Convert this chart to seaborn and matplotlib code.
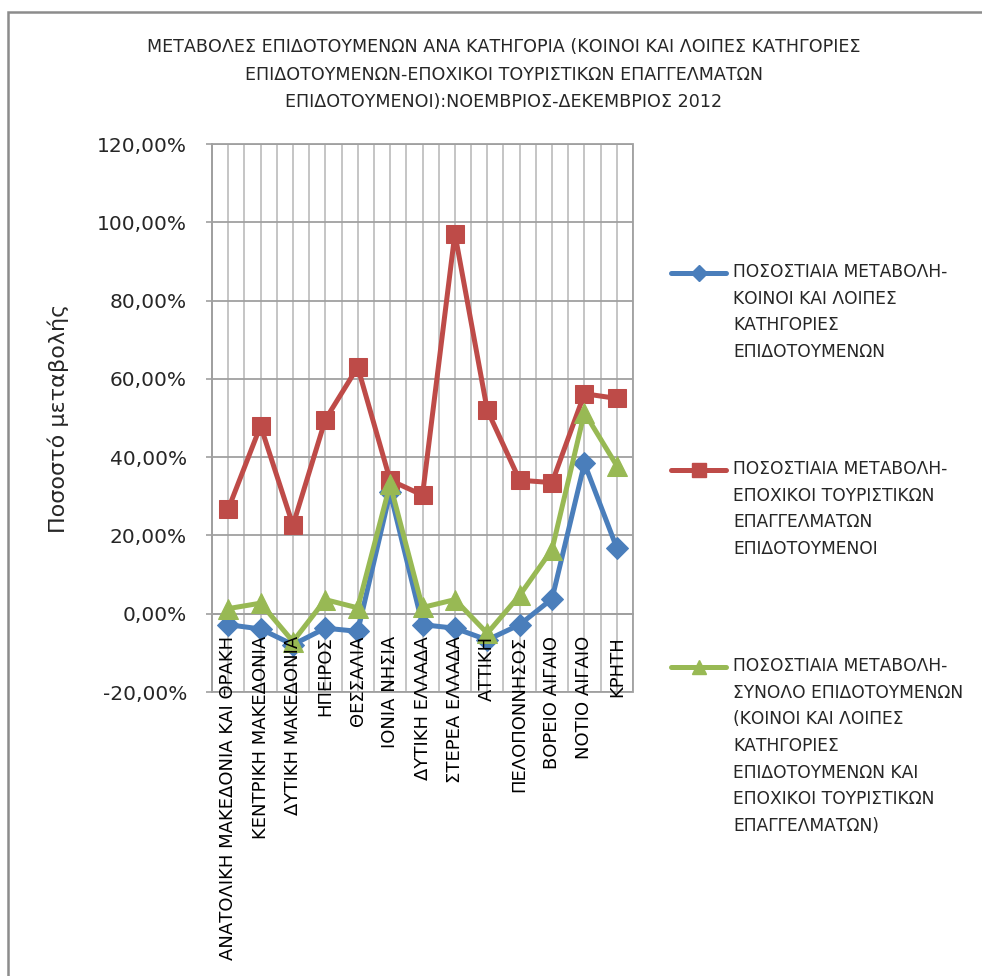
import matplotlib
matplotlib.use("Agg")
import matplotlib.pyplot as plt
from matplotlib.lines import Line2D
from matplotlib.patches import Rectangle
from matplotlib.ticker import FuncFormatter
from matplotlib import font_manager
import seaborn as sns
import pandas as pd

# ---------------- data ----------------
categories = ["ΑΝΑΤΟΛΙΚΗ ΜΑΚΕΔΟΝΙΑ ΚΑΙ ΘΡΑΚΗ", "ΚΕΝΤΡΙΚΗ ΜΑΚΕΔΟΝΙΑ", "ΔΥΤΙΚΗ ΜΑΚΕΔΟΝΙΑ",
              "ΗΠΕΙΡΟΣ", "ΘΕΣΣΑΛΙΑ", "ΙΟΝΙΑ ΝΗΣΙΑ", "ΔΥΤΙΚΗ ΕΛΛΑΔΑ", "ΣΤΕΡΕΑ ΕΛΛΑΔΑ",
              "ΑΤΤΙΚΗ", "ΠΕΛΟΠΟΝΝΗΣΟΣ", "ΒΟΡΕΙΟ ΑΙΓΑΙΟ", "ΝΟΤΙΟ ΑΙΓΑΙΟ", "ΚΡΗΤΗ"]
koinoi = [-2.8, -3.9, -7.9, -3.7, -4.5, 31.0, -2.8, -3.7, -6.7, -2.8, 3.8, 38.4, 16.8]
epoxikoi = [26.7, 48.0, 22.6, 49.6, 63.0, 34.1, 30.3, 97.1, 52.0, 34.1, 33.5, 56.2, 55.0]
synolo = [1.3, 2.7, -7.1, 3.6, 1.5, 33.1, 1.6, 3.6, -5.0, 4.7, 16.4, 51.4, 37.8]
yticks = [-20, 0, 20, 40, 60, 80, 100, 120]

series_labels = [
    "ΠΟΣΟΣΤΙΑΙΑ ΜΕΤΑΒΟΛΗ-\nΚΟΙΝΟΙ ΚΑΙ ΛΟΙΠΕΣ\nΚΑΤΗΓΟΡΙΕΣ\nΕΠΙΔΟΤΟΥΜΕΝΩΝ",
    "ΠΟΣΟΣΤΙΑΙΑ ΜΕΤΑΒΟΛΗ-\nΕΠΟΧΙΚΟΙ ΤΟΥΡΙΣΤΙΚΩΝ\nΕΠΑΓΓΕΛΜΑΤΩΝ\nΕΠΙΔΟΤΟΥΜΕΝΟΙ",
    "ΠΟΣΟΣΤΙΑΙΑ ΜΕΤΑΒΟΛΗ-\nΣΥΝΟΛΟ ΕΠΙΔΟΤΟΥΜΕΝΩΝ\n(ΚΟΙΝΟΙ ΚΑΙ ΛΟΙΠΕΣ\nΚΑΤΗΓΟΡΙΕΣ\nΕΠΙΔΟΤΟΥΜΕΝΩΝ ΚΑΙ\nΕΠΟΧΙΚΟΙ ΤΟΥΡΙΣΤΙΚΩΝ\nΕΠΑΓΓΕΛΜΑΤΩΝ)",
]
title = ("ΜΕΤΑΒΟΛΕΣ ΕΠΙΔΟΤΟΥΜΕΝΩΝ ΑΝΑ ΚΑΤΗΓΟΡΙΑ (ΚΟΙΝΟΙ ΚΑΙ ΛΟΙΠΕΣ ΚΑΤΗΓΟΡΙΕΣ\n"
         "ΕΠΙΔΟΤΟΥΜΕΝΩΝ-ΕΠΟΧΙΚΟΙ ΤΟΥΡΙΣΤΙΚΩΝ ΕΠΑΓΓΕΛΜΑΤΩΝ\n"
         "ΕΠΙΔΟΤΟΥΜΕΝΟΙ):ΝΟΕΜΒΡΙΟΣ-ΔΕΚΕΜΒΡΙΟΣ 2012")
ylabel = "Ποσοστό μεταβολής"

# ---------------- style ----------------
sns.set_theme(style="white")
plt.rcParams['font.family'] = ['DejaVu Sans']
FONT = ['DejaVu Sans']

W, H = 982, 976
fig = plt.figure(figsize=(W / 100, H / 100), dpi=100)
fig.patch.set_facecolor("white")


def fx(px):
    return px / W


def fy(py):
    return 1 - py / H


ax = fig.add_axes([fx(212), fy(692), fx(633) - fx(212), fy(144) - fy(692)])

colors = ["#4a7ebb", "#be4b48", "#98b954"]
markers = ["D", "s", "^"]
msizes = [11, 13, 14]
series = [koinoi, epoxikoi, synolo]

for vals, c, m, ms in zip(series, colors, markers, msizes):
    df = pd.DataFrame({"region": categories, "value": vals})
    sns.lineplot(data=df, x="region", y="value", sort=False, ax=ax, color=c,
                 marker=m, markersize=ms, markeredgecolor=c, linewidth=3.6,
                 legend=False, zorder=3)

ax.set_xlim(-0.5, len(categories) - 0.5)
ax.set_ylim(yticks[0], yticks[-1])
ax.set_yticks(yticks)
ax.yaxis.set_major_formatter(FuncFormatter(lambda v, p: f"{v:.2f}%".replace(".", ",")))

# gridlines
ax.grid(False)
for i in range(2 * len(categories) + 1):
    ax.axvline(-0.5 + 0.5 * i, color="#c0c0c0", lw=1.3, zorder=0.5)
for t in yticks:
    ax.axhline(t, color="#a0a0a0", lw=1.3, zorder=0.6)

for s in ax.spines.values():
    s.set_visible(False)
ax.spines['left'].set_visible(True)
ax.spines['left'].set_color("#a0a0a0")
ax.spines['left'].set_linewidth(1.3)
ax.spines['bottom'].set_visible(True)
ax.spines['bottom'].set_position(('data', 0))
ax.spines['bottom'].set_color("#a0a0a0")
ax.spines['bottom'].set_linewidth(1.3)
ax.add_patch(Rectangle((0, 0), 1, 1, transform=ax.transAxes, fill=False,
                       edgecolor="#a0a0a0", lw=1.3, clip_on=False, zorder=0.7))

ax.set_xticks(range(len(categories)))
ax.set_xticklabels(categories, rotation=90, fontsize=13, family=FONT,
                   va="top", ha="center")
ax.tick_params(axis="x", length=0, pad=16, colors="black")
ax.tick_params(axis="y", length=4, width=1.2, color="#a0a0a0", pad=14,
               labelsize=14.5, left=True)
for lab in ax.get_yticklabels():
    lab.set_family(FONT)
ax.xaxis.set_zorder(5)
ax.set_xlabel("")
ax.set_ylabel("")

fig.text(fx(58), fy(418), ylabel, rotation=90, ha="center", va="center",
         fontsize=16, family=FONT)

fig.text(fx(504), fy(38), title, ha="center", va="top", fontsize=12.6,
         family=FONT, linespacing=1.68)

# legend (manual)
leg_y = [273, 470, 667]
for lab, c, m, ms, y in zip(series_labels, colors, markers, msizes, leg_y):
    fig.add_artist(Line2D([fx(671), fx(726)], [fy(y), fy(y)], color=c, lw=3.6,
                          transform=fig.transFigure))
    fig.add_artist(Line2D([fx(699)], [fy(y)], color=c, marker=m,
                          markersize=ms * 0.75, markeredgecolor=c,
                          transform=fig.transFigure))
    fig.text(fx(733), fy(y - 10), lab, ha="left", va="top", fontsize=12.3,
             family=FONT, linespacing=1.62)

# outer chart border
fig.add_artist(Rectangle((fx(8), fy(1100)), fx(1200), fy(12) - fy(1100),
                         transform=fig.transFigure, fill=False,
                         edgecolor="#8c8c8c", lw=1.8))

fig.savefig("out.png", dpi=100, facecolor="white")
